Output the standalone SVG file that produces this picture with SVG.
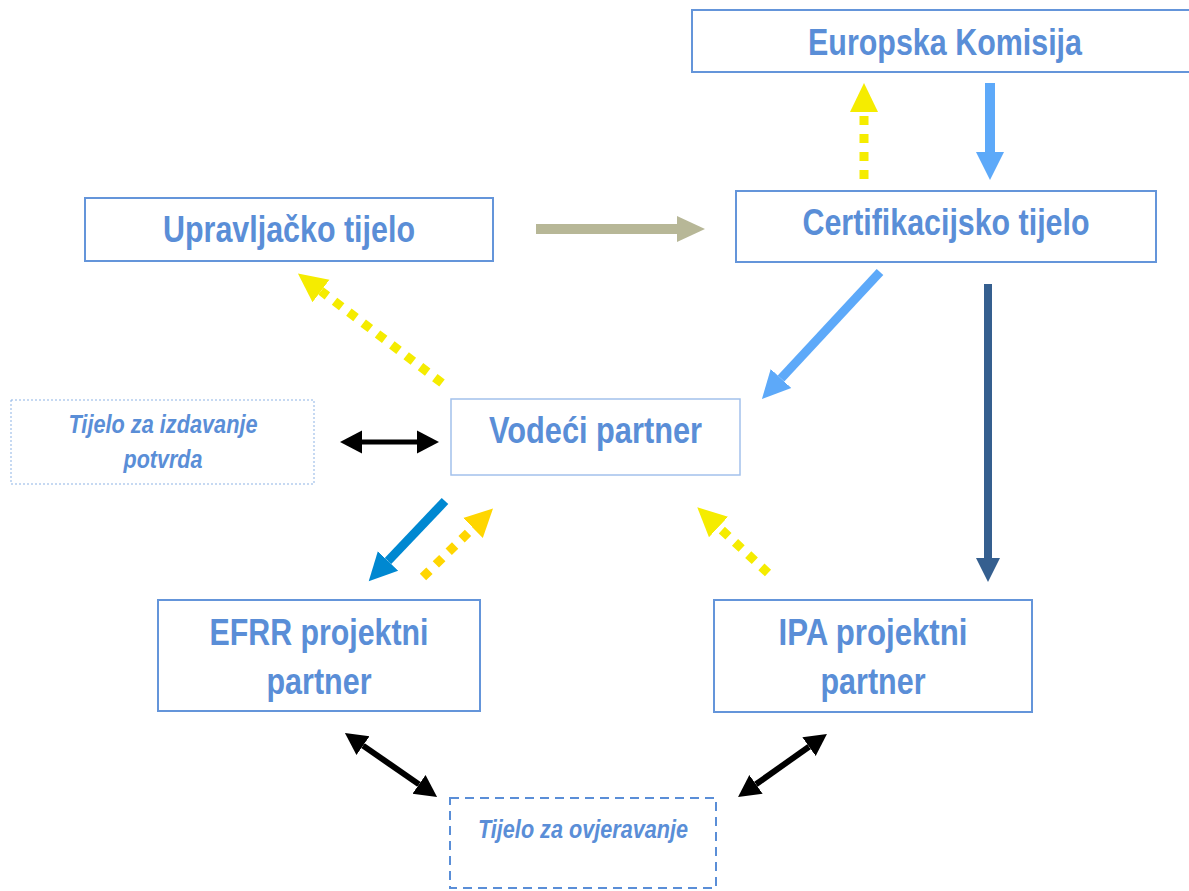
<svg xmlns="http://www.w3.org/2000/svg" width="1189" height="891" viewBox="0 0 1189 891">
<style>
.box{fill:#fff;stroke:#6495DA;stroke-width:2}
.t{font-family:"Liberation Sans Narrow","Liberation Sans",Arial,sans-serif;font-weight:bold;fill:#5A8ED7;text-anchor:middle}
.big{font-size:37px}
.it{font-size:26px;font-style:italic}
.ln{fill:none}
</style>
<defs>
<marker id="hY" markerUnits="userSpaceOnUse" markerWidth="32" markerHeight="32" viewBox="0 -16 32 32" refX="0" refY="0" orient="auto"><path d="M0,-14 L29,0 L0,14 z" fill="#F5EC00"/></marker>
<marker id="hG" markerUnits="userSpaceOnUse" markerWidth="32" markerHeight="32" viewBox="0 -16 32 32" refX="0" refY="0" orient="auto"><path d="M0,-14 L28,0 L0,14 z" fill="#FFD600"/></marker>
<marker id="hLB" markerUnits="userSpaceOnUse" markerWidth="32" markerHeight="32" viewBox="0 -16 32 32" refX="0" refY="0" orient="auto"><path d="M0,-14 L28,0 L0,14 z" fill="#5DA9F9"/></marker>
<marker id="hC" markerUnits="userSpaceOnUse" markerWidth="32" markerHeight="32" viewBox="0 -16 32 32" refX="0" refY="0" orient="auto"><path d="M0,-14 L28,0 L0,14 z" fill="#0088D1"/></marker>
<marker id="hDB" markerUnits="userSpaceOnUse" markerWidth="32" markerHeight="32" viewBox="0 -16 32 32" refX="0" refY="0" orient="auto"><path d="M0,-12 L24,0 L0,12 z" fill="#355F8F"/></marker>
<marker id="hGr" markerUnits="userSpaceOnUse" markerWidth="32" markerHeight="32" viewBox="0 -16 32 32" refX="0" refY="0" orient="auto"><path d="M0,-13 L28,0 L0,13 z" fill="#B7B797"/></marker>
<marker id="hK" markerUnits="userSpaceOnUse" markerWidth="32" markerHeight="32" viewBox="0 -16 32 32" refX="0" refY="0" orient="auto-start-reverse"><path d="M0,-11.5 L22,0 L0,11.5 z" fill="#000"/></marker>
</defs>
<rect width="1189" height="891" fill="#fff"/>

<g id="connectors">
<line class="ln" x1="864" y1="179" x2="864" y2="112" stroke="#F5EC00" stroke-width="9" stroke-dasharray="9 9" marker-end="url(#hY)"/>
<line class="ln" x1="990" y1="83" x2="990" y2="152" stroke="#5DA9F9" stroke-width="10" marker-end="url(#hLB)"/>
<line class="ln" x1="536" y1="229" x2="677" y2="229" stroke="#B7B797" stroke-width="10" marker-end="url(#hGr)"/>
<line class="ln" x1="880" y1="272" x2="781" y2="378.5" stroke="#5DA9F9" stroke-width="9" marker-end="url(#hLB)"/>
<line class="ln" x1="988" y1="284" x2="988" y2="558" stroke="#355F8F" stroke-width="8" marker-end="url(#hDB)"/>
<line class="ln" x1="442" y1="383" x2="321" y2="291" stroke="#F5EC00" stroke-width="9" stroke-dasharray="9 9" marker-end="url(#hY)"/>
<line class="ln" x1="362" y1="442" x2="417" y2="442" stroke="#000" stroke-width="5" marker-start="url(#hK)" marker-end="url(#hK)"/>
<line class="ln" x1="445" y1="501" x2="388" y2="561" stroke="#0088D1" stroke-width="9" marker-end="url(#hC)"/>
<line class="ln" x1="423" y1="577" x2="473" y2="528" stroke="#FFD600" stroke-width="9" stroke-dasharray="9 9" marker-end="url(#hG)"/>
<line class="ln" x1="768" y1="573" x2="718.5" y2="527" stroke="#F5EC00" stroke-width="9" stroke-dasharray="9 9" marker-end="url(#hY)"/>
<line class="ln" x1="363" y1="745.6" x2="419" y2="784.4" stroke="#000" stroke-width="6" marker-start="url(#hK)" marker-end="url(#hK)"/>
<line class="ln" x1="756" y1="784.3" x2="809" y2="746.7" stroke="#000" stroke-width="6" marker-start="url(#hK)" marker-end="url(#hK)"/>
</g>

<g id="ek">
<rect class="box" x="692" y="10" width="505" height="62"/>
<text class="t big" x="945" y="55" textLength="274" lengthAdjust="spacingAndGlyphs">Europska Komisija</text>
</g>
<g id="ct">
<rect class="box" x="736" y="191" width="420" height="71"/>
<text class="t big" x="946" y="235" textLength="287" lengthAdjust="spacingAndGlyphs">Certifikacijsko tijelo</text>
</g>
<g id="ut">
<rect class="box" x="85" y="198" width="408" height="63"/>
<text class="t big" x="289" y="242" textLength="252" lengthAdjust="spacingAndGlyphs">Upravljačko tijelo</text>
</g>
<g id="tip">
<rect x="11" y="400" width="303" height="84" fill="#fff" stroke="#8DB3E5" stroke-width="1" stroke-dasharray="2 2"/>
<text class="t it" x="163" y="433" textLength="189" lengthAdjust="spacingAndGlyphs">Tijelo za izdavanje</text>
<text class="t it" x="163" y="468" textLength="79" lengthAdjust="spacingAndGlyphs">potvrda</text>
</g>
<g id="vp">
<rect x="451" y="399" width="289" height="76" fill="#fff" stroke="#A3C1EC" stroke-width="1.5"/>
<text class="t big" x="595.5" y="443" textLength="213" lengthAdjust="spacingAndGlyphs">Vodeći partner</text>
</g>
<g id="efrr">
<rect class="box" x="158" y="600" width="322" height="111"/>
<text class="t big" x="319" y="645" textLength="219" lengthAdjust="spacingAndGlyphs">EFRR projektni</text>
<text class="t big" x="319" y="694" textLength="105" lengthAdjust="spacingAndGlyphs">partner</text>
</g>
<g id="ipa">
<rect class="box" x="714" y="600" width="318" height="112"/>
<text class="t big" x="873" y="645" textLength="189" lengthAdjust="spacingAndGlyphs">IPA projektni</text>
<text class="t big" x="873" y="694" textLength="105" lengthAdjust="spacingAndGlyphs">partner</text>
</g>
<g id="tzo">
<rect x="450" y="798" width="266" height="90" fill="#fff" stroke="#5A8ED7" stroke-width="2" stroke-dasharray="9 6"/>
<text class="t it" x="583" y="838" textLength="210" lengthAdjust="spacingAndGlyphs">Tijelo za ovjeravanje</text>
</g>
</svg>
